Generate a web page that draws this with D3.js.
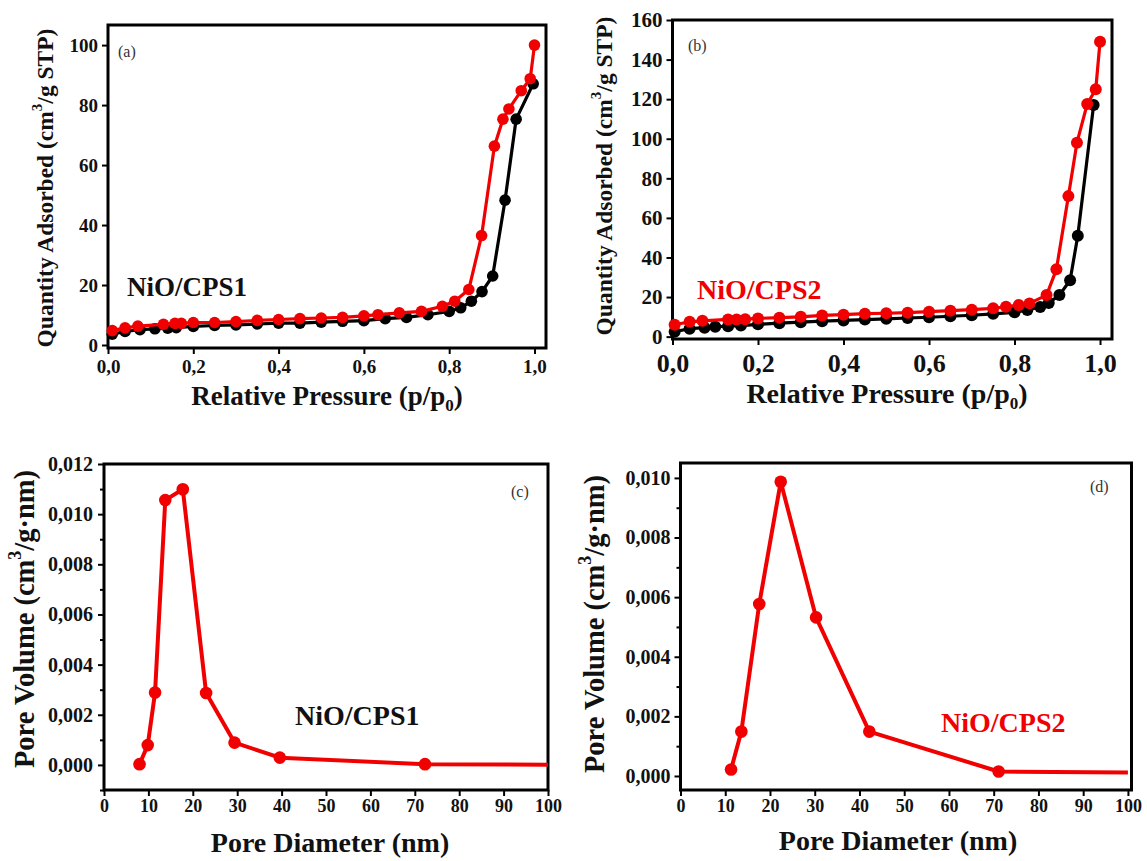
<!DOCTYPE html>
<html>
<head>
<meta charset="utf-8">
<script src="https://cdn.jsdelivr.net/npm/d3@7"></script>
<style>
  body { margin: 0; background: #fff; }
  svg text { font-family: "Liberation Serif", "DejaVu Serif", "Times New Roman", serif; font-weight: bold; fill: #111; }
</style>
</head>
<body>
<svg id="chart" width="1147" height="861"></svg>
<script>
// (a) NiO/CPS1 isotherm, black = adsorption, red = desorption
var isoA_blackP = [0.01, 0.04, 0.075, 0.11, 0.14, 0.16, 0.2, 0.25, 0.3, 0.35, 0.4, 0.45, 0.5, 0.55, 0.6, 0.65, 0.7, 0.75, 0.8, 0.827, 0.852, 0.877, 0.902, 0.931, 0.957, 0.997];
var isoA_blackQ = [3.6, 4.5, 5.1, 5.4, 5.6, 5.8, 6.2, 6.5, 6.7, 7.0, 7.3, 7.3, 7.6, 7.9, 8.1, 8.8, 9.2, 10.1, 11.2, 12.4, 14.6, 17.8, 23.0, 48.3, 75.3, 87.1];
var isoA_redP = [0.01, 0.04, 0.07, 0.13, 0.157, 0.172, 0.2, 0.25, 0.3, 0.35, 0.4, 0.45, 0.5, 0.55, 0.6, 0.633, 0.683, 0.735, 0.784, 0.813, 0.846, 0.876, 0.906, 0.926, 0.94, 0.969, 0.99, 1.0];
var isoA_redQ = [4.8, 5.7, 6.3, 6.9, 7.2, 7.2, 7.5, 7.5, 7.8, 8.2, 8.5, 8.8, 9.0, 9.2, 9.7, 10.1, 10.7, 11.2, 12.9, 14.6, 18.5, 36.5, 66.3, 75.3, 78.7, 84.8, 88.8, 100];

// (b) NiO/CPS2 isotherm
var isoB_blackP = [0.005, 0.04, 0.075, 0.1, 0.13, 0.16, 0.2, 0.25, 0.3, 0.35, 0.4, 0.45, 0.5, 0.55, 0.6, 0.65, 0.7, 0.75, 0.8, 0.83, 0.86, 0.88, 0.905, 0.93, 0.948, 0.985];
var isoB_blackQ = [2.5, 4, 4.5, 5, 5.3, 5.6, 6.2, 6.8, 7.3, 7.8, 8.2, 8.6, 9, 9.4, 9.8, 10.3, 10.8, 11.5, 12.3, 13.5, 15, 17, 21, 28.5, 51, 117];
var isoB_redP = [0.005, 0.04, 0.07, 0.13, 0.15, 0.17, 0.2, 0.25, 0.3, 0.35, 0.4, 0.45, 0.5, 0.55, 0.6, 0.65, 0.7, 0.75, 0.78, 0.81, 0.835, 0.875, 0.898, 0.926, 0.946, 0.97, 0.99, 1.0];
var isoB_redQ = [6, 7.5, 8, 8.7, 8.7, 8.8, 9.2, 9.6, 10, 10.7, 11.1, 11.6, 11.8, 12.1, 12.6, 13.1, 13.6, 14.3, 15.1, 16, 16.8, 21, 34, 71, 98, 117.5, 125, 149];

// (c) pore size distribution NiO/CPS1 (last point is line end only, no marker)
var poreC_diam = [8, 9.85, 11.5, 13.8, 17.75, 23, 29.4, 39.6, 72.3, 100];
var poreC_vol = [0.00003, 0.00079, 0.00289, 0.01056, 0.01099, 0.00287, 0.00089, 0.00029, 0.00003, 0.00001];

// (d) pore size distribution NiO/CPS2
var poreD_diam = [11.3, 13.6, 17.6, 22.4, 30.3, 42.2, 71.1, 100];
var poreD_vol = [0.00022, 0.00149, 0.00577, 0.00987, 0.00532, 0.00149, 0.00015, 0.00012];

// tick values
var pressureTicks = [0, 0.2, 0.4, 0.6, 0.8, 1.0];
var qTicksA = [0, 20, 40, 60, 80, 100];
var qTicksB = [0, 20, 40, 60, 80, 100, 120, 140, 160];
var diamTicks = [0, 10, 20, 30, 40, 50, 60, 70, 80, 90, 100];
var volTicksC = [0, 0.002, 0.004, 0.006, 0.008, 0.010, 0.012];
var volTicksD = [0, 0.002, 0.004, 0.006, 0.008, 0.010];
var volMinorC = [-0.001, 0.001, 0.003, 0.005, 0.007, 0.009, 0.011];
var volMinorD = [0.001, 0.003, 0.005, 0.007, 0.009];

var RED = "#f00000";
var FONT = '"Liberation Serif", "DejaVu Serif", "Times New Roman", serif';
var svg = d3.select("#chart");
var loc = d3.formatLocale({decimal: ",", thousands: ".", grouping: [3], currency: ["", ""]});

function zip(a, b) { return a.map(function (v, i) { return [v, b[i]]; }); }

//draws one framed panel and returns its scales
function makePanel(p) {
	var x = d3.scaleLinear().domain(p.xDomain).range([p.left, p.right]);
	var y = d3.scaleLinear().domain(p.yDomain).range([p.bottom, p.top]);
	var g = svg.append("g");

	var xa = g.append("g")
		.attr("transform", "translate(0," + p.bottom + ")")
		.call(d3.axisBottom(x).tickValues(p.xTicks).tickFormat(p.xFmt)
			.tickSize(6).tickSizeOuter(0).tickPadding(p.xPad));
	xa.selectAll("text").style("font-size", p.xTickFont + "px");

	var ya = g.append("g")
		.attr("transform", "translate(" + p.left + ",0)")
		.call(d3.axisLeft(y).tickValues(p.yTicks).tickFormat(p.yFmt)
			.tickSize(6).tickSizeOuter(0).tickPadding(p.yPad));
	ya.selectAll("text").style("font-size", p.yTickFont + "px");

	if (p.yMinor) {
		g.append("g")
			.attr("transform", "translate(" + p.left + ",0)")
			.call(d3.axisLeft(y).tickValues(p.yMinor).tickFormat("").tickSize(4).tickSizeOuter(0));
	}

	// d3 axes put font-family="sans-serif" on their group, take it off
	g.selectAll("g").attr("font-family", null);
	g.selectAll(".domain").remove();
	g.selectAll(".tick line").attr("stroke", "#000").attr("stroke-width", 2);
	g.selectAll(".tick text").attr("fill", "#111").style("font-family", FONT);

	g.append("rect")
		.attr("x", p.left).attr("y", p.top)
		.attr("width", p.right - p.left).attr("height", p.bottom - p.top)
		.attr("fill", "none").attr("stroke", "#000").attr("stroke-width", 3);

	return {x: x, y: y, g: g};
}

function drawSeries(pan, xs, ys, color, r, lw, markCount) {
	var pts = zip(xs, ys);
	var line = d3.line().x(function (d) { return pan.x(d[0]); }).y(function (d) { return pan.y(d[1]); });
	pan.g.append("path")
		.attr("d", line(pts))
		.attr("fill", "none").attr("stroke", color).attr("stroke-width", lw)
		.attr("stroke-linejoin", "round");
	pan.g.selectAll(null)
		.data(pts.slice(0, markCount == null ? pts.length : markCount))
		.enter().append("circle")
			.attr("cx", function (d) { return pan.x(d[0]); })
			.attr("cy", function (d) { return pan.y(d[1]); })
			.attr("r", r)
			.attr("fill", color);
}

function xTitle(cx, base, size, parts) {
	var t = svg.append("text").attr("x", cx).attr("y", base)
		.attr("text-anchor", "middle").style("font-size", size + "px").style("font-family", FONT);
	parts(t);
}

function yTitle(cx, cy, size, parts) {
	var t = svg.append("text")
		.attr("transform", "translate(" + cx + "," + cy + ") rotate(-90)")
		.attr("text-anchor", "middle").attr("dominant-baseline", "central")
		.style("font-size", size + "px").style("font-family", FONT);
	parts(t);
}

function label(x, y, txt, size, color, weight) {
	svg.append("text").attr("x", x).attr("y", y)
		.style("font-size", size + "px")
		.style("font-family", FONT)
		.style("font-weight", weight || "bold")
		.style("fill", color || "#111")
		.text(txt);
}

var fmtP = loc.format(".1f");
var fmtV = loc.format(".3f");
var fmtI = d3.format("d");

// ---------- (a)
var pa = makePanel({left: 108, right: 546, top: 25, bottom: 348,
	xDomain: [0, 1.027], yDomain: [-1, 106.7],
	xTicks: pressureTicks, yTicks: qTicksA, xFmt: fmtP, yFmt: fmtI,
	xPad: 6, yPad: 4, xTickFont: 19, yTickFont: 19});
drawSeries(pa, isoA_blackP, isoA_blackQ, "#000", 5.8, 3.2);
drawSeries(pa, isoA_redP, isoA_redQ, RED, 5.8, 3.2);
label(118, 57, "(a)", 16, "#333", "normal");
label(127, 296, "NiO/CPS1", 27);
xTitle(327, 405, 27, function (t) {
	t.append("tspan").text("Relative Pressure (p/p");
	t.append("tspan").attr("dy", 6).style("font-size", "17px").text("0");
	t.append("tspan").attr("dy", -6).text(")");
});
yTitle(45, 188, 23.5, function (t) {
	t.append("tspan").text("Quantity Adsorbed (cm");
	t.append("tspan").attr("dy", -8).style("font-size", "15px").text("3");
	t.append("tspan").attr("dy", 8).text("/g STP)");
});

// ---------- (b)
var pb = makePanel({left: 672.5, right: 1112, top: 20, bottom: 339,
	xDomain: [0, 1.028], yDomain: [-1.2, 160],
	xTicks: pressureTicks, yTicks: qTicksB, xFmt: fmtP, yFmt: fmtI,
	xPad: 9, yPad: 4, xTickFont: 26, yTickFont: 21});
drawSeries(pb, isoB_blackP, isoB_blackQ, "#000", 6, 3.2);
drawSeries(pb, isoB_redP, isoB_redQ, RED, 6, 3.2);
label(688, 51, "(b)", 16, "#333", "normal");
label(697, 299, "NiO/CPS2", 28, RED);
xTitle(887, 403, 28, function (t) {
	t.append("tspan").text("Relative Pressure (p/p");
	t.append("tspan").attr("dy", 6).style("font-size", "17px").text("0");
	t.append("tspan").attr("dy", -6).text(")");
});
yTitle(604, 176, 23.5, function (t) {
	t.append("tspan").text("Quantity Adsorbed (cm");
	t.append("tspan").attr("dy", -8).style("font-size", "15px").text("3");
	t.append("tspan").attr("dy", 8).text("/g STP)");
});

// ---------- (c)
var pc = makePanel({left: 104, right: 548, top: 464, bottom: 790,
	xDomain: [0, 100], yDomain: [-0.001, 0.012],
	xTicks: diamTicks, yTicks: volTicksC, yMinor: volMinorC, xFmt: fmtI, yFmt: fmtV,
	xPad: 3, yPad: 5, xTickFont: 18, yTickFont: 20});
drawSeries(pc, poreC_diam, poreC_vol, RED, 6.3, 4, poreC_diam.length - 1);
label(511, 497, "(c)", 16, "#333", "normal");
label(295, 725, "NiO/CPS1", 28);
xTitle(330, 852, 28, function (t) { t.text("Pore Diameter (nm)"); });
yTitle(24, 619, 28.5, function (t) {
	t.append("tspan").text("Pore Volume (cm");
	t.append("tspan").attr("dy", -9).style("font-size", "18px").text("3");
	t.append("tspan").attr("dy", 9).text("/g\u00b7nm)");
});

// ---------- (d)
var pd = makePanel({left: 680.5, right: 1131.5, top: 463, bottom: 790,
	xDomain: [0, 100.8], yDomain: [-0.00047, 0.0105],
	xTicks: diamTicks, yTicks: volTicksD, yMinor: volMinorD, xFmt: fmtI, yFmt: fmtV,
	xPad: 3, yPad: 4, xTickFont: 18, yTickFont: 20});
drawSeries(pd, poreD_diam, poreD_vol, RED, 6.3, 4, poreD_diam.length - 1);
label(1090, 492, "(d)", 16, "#333", "normal");
label(941, 732, "NiO/CPS2", 28, RED);
xTitle(898, 850, 28, function (t) { t.text("Pore Diameter (nm)"); });
yTitle(594, 624, 28.5, function (t) {
	t.append("tspan").text("Pore Volume (cm");
	t.append("tspan").attr("dy", -9).style("font-size", "18px").text("3");
	t.append("tspan").attr("dy", 9).text("/g\u00b7nm)");
});
</script>
</body>
</html>
